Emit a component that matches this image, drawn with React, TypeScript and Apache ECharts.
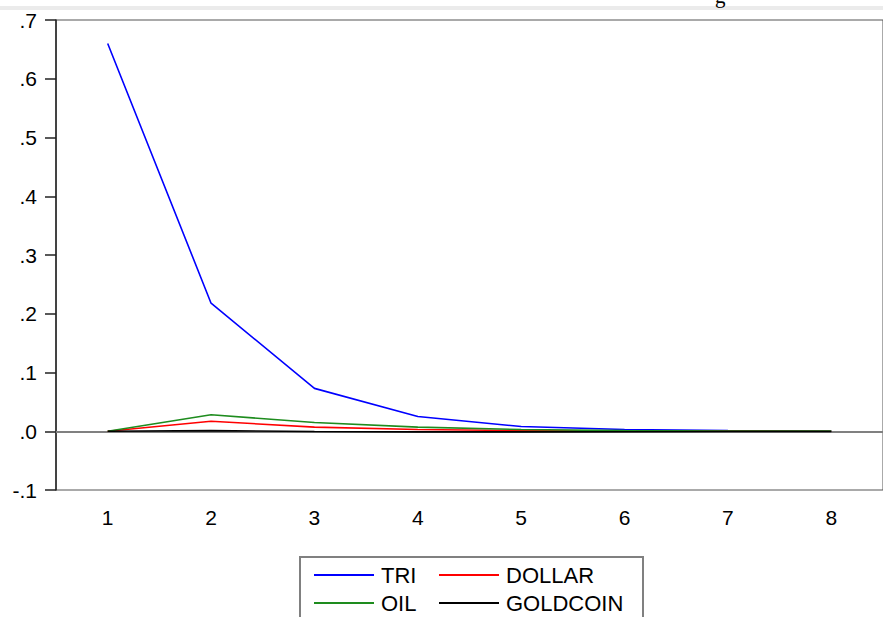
import React, { useEffect, useRef } from "react";
import * as echarts from "echarts";

const periods = ["1", "2", "3", "4", "5", "6", "7", "8"];
const tri = [0.66, 0.218, 0.073, 0.025, 0.008, 0.003, 0.001, 0.0];
const dollar = [0.0, 0.017, 0.007, 0.003, 0.001, 0.0005, 0.0002, 0.0];
const oil = [0.0, 0.028, 0.015, 0.007, 0.003, 0.001, 0.0005, 0.0002];
const goldcoin = [0.0, 0.001, -0.0005, -0.001, -0.001, -0.0008, -0.0005, -0.0003];
const yMin = -0.1;
const yMax = 0.7;
const yStep = 0.1;

const FONT = "'Liberation Sans', Arial, sans-serif";

export default function App() {
  const ref = useRef<HTMLDivElement>(null);
  useEffect(() => {
    if (!ref.current) return;
    const chart = echarts.init(ref.current, undefined, { renderer: "svg" });
    const fmt = (v: number) => {
      const s = (Math.round(v * 10) / 10).toFixed(1);
      return s.replace(/^(-?)0\./, "$1.");
    };
    const mkSeries = (name: string, data: number[], color: string, extra: any = {}) => ({
      name,
      type: "line",
      data,
      symbol: "none",
      showSymbol: false,
      lineStyle: { color, width: 1.6 },
      itemStyle: { color },
      ...extra,
    });
    const legendItem = (name: string, left: number, top: number) => ({
      data: [name],
      left,
      top,
      itemWidth: 60,
      itemHeight: 14,
      itemGap: 0,
      padding: 0,
      itemStyle: { opacity: 0 },
      lineStyle: { width: 2 },
      textStyle: { fontFamily: FONT, fontSize: 22, color: "#000", padding: [0, 0, 0, 2] },
      selectedMode: false,
    });
    chart.setOption({
      animation: false,
      backgroundColor: "#fff",
      grid: {
        left: 56,
        right: -3,
        top: 20,
        bottom: 127,
        show: true,
        borderColor: "#555",
        borderWidth: 1,
      },
      xAxis: {
        type: "category",
        data: periods,
        boundaryGap: true,
        axisLine: { lineStyle: { color: "#808080", width: 2 } },
        axisTick: { length: 8, lineStyle: { color: "#222", width: 1.2 } },
        axisLabel: { margin: 17, fontFamily: FONT, fontSize: 21, color: "#000" },
        splitLine: { show: false },
      },
      yAxis: {
        type: "value",
        min: yMin,
        max: yMax,
        interval: yStep,
        axisLine: { show: true, lineStyle: { color: "#222", width: 1.5 } },
        axisTick: { show: true, length: 11, lineStyle: { color: "#222", width: 1.5 } },
        axisLabel: { margin: 19, fontFamily: FONT, fontSize: 21, color: "#000", formatter: fmt },
        splitLine: { show: false },
      },
      legend: [
        legendItem("TRI", 313, 564),
        legendItem("DOLLAR", 438, 564),
        legendItem("OIL", 313, 592),
        legendItem("GOLDCOIN", 438, 592),
      ],
      graphic: [
        { type: "rect", shape: { x: 0, y: 6, width: 883, height: 4 }, style: { fill: "#ebebeb" }, z: 0 },
        {
          type: "text",
          x: 715,
          y: -15,
          style: { text: "g", font: "21px 'Liberation Serif', serif", fill: "#000" },
        },
        {
          type: "rect",
          shape: { x: 300, y: 557, width: 343, height: 80 },
          style: { fill: "none", stroke: "#808080", lineWidth: 2 },
          z: 10,
        },
      ],
      series: [
        mkSeries("TRI", tri, "#0000ff", {
          markLine: {
            silent: true,
            symbol: "none",
            label: { show: false },
            lineStyle: { color: "#808080", width: 1.5, type: "solid" },
            data: [{ yAxis: 0 }],
            z: 1,
          },
        }),
        mkSeries("DOLLAR", dollar, "#ff0000"),
        mkSeries("OIL", oil, "#1e8c1e"),
        mkSeries("GOLDCOIN", goldcoin, "#000000"),
      ],
    });
    return () => chart.dispose();
  }, []);
  return (
    <div style={{ position: "fixed", left: 0, top: 0, width: 883, height: 617, overflow: "hidden", background: "#fff" }}>
      <div ref={ref} style={{ width: 883, height: 617 }} />
    </div>
  );
}
